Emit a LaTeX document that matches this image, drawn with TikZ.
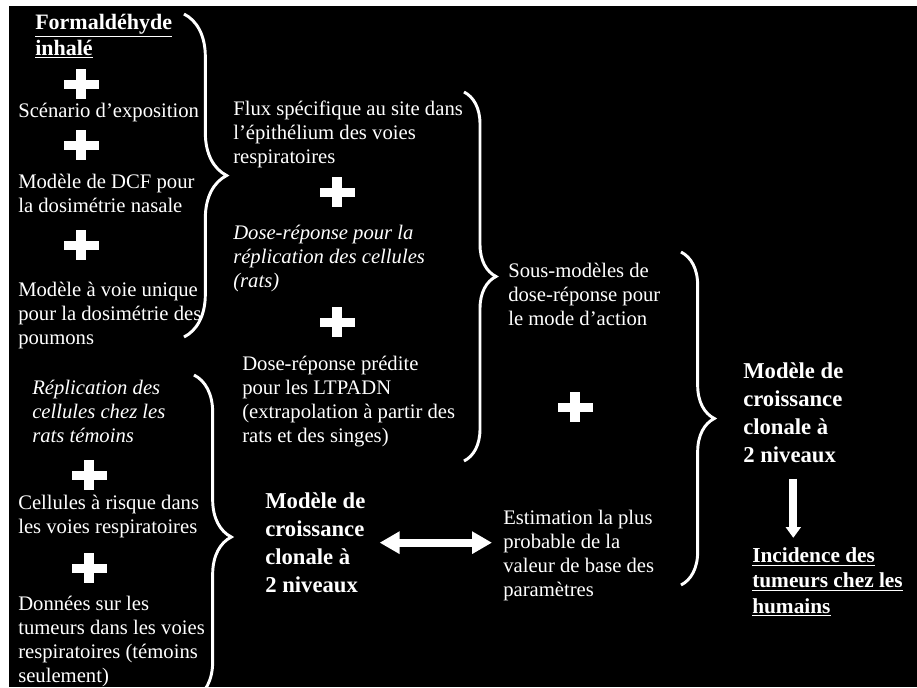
\documentclass[tikz,border=0pt]{standalone}
\usepackage{fontspec}
\setmainfont{Liberation Serif}
\usepackage{tikz}
\usetikzlibrary{arrows.meta,decorations.pathreplacing}

\tikzset{
  txt/.style={anchor=base west,inner sep=0pt,align=left,text=white,
    font=\fontsize{15.5}{18}\selectfont},
  txtit/.style={txt,font=\fontsize{15.5}{18}\selectfont\itshape},
  txtbf/.style={txt,font=\fontsize{17}{20.8}\selectfont\bfseries},
  curly/.style={draw=white,line width=2.2pt,decorate},
  plussign/.pic={
    \fill[white] (-17.5,-4.5) rectangle (17.5,4.5);
    \fill[white] (-5,-15) rectangle (5,15);
  },
  bigarrow/.style={draw=white,line width=6pt}
}

\begin{document}
\begin{tikzpicture}[x=0.75pt,y=0.75pt,yscale=-1,xscale=1]
%set diagram size
\useasboundingbox (0,0) rectangle (917,687);
\fill[white] (0,0) rectangle (917,687);
\fill[black] (9,6) rectangle (917,687);

% Text Node (base = last line)
\node (form) at (35,55) [txt,font=\fontsize{16.5}{18.8}\selectfont\bfseries] {\underline{Formaldéhyde}\\\underline{inhalé}};
% Text Node
\node (scen) at (18,117) [txt] {Scénario d’exposition};
% Text Node
\node (dcf) at (18,212) [txt] {Modèle de DCF pour\\la dosimétrie nasale};
% Text Node
\node (voie) at (18,344) [txt] {Modèle à voie unique\\pour la dosimétrie des\\poumons};
% Text Node
\node (repl) at (32,442) [txtit] {Réplication des\\cellules chez les\\rats témoins};
% Text Node
\node (risque) at (18,533) [txt] {Cellules à risque dans\\les voies respiratoires};
% Text Node
\node (donnees) at (18,682) [txt] {Données sur les\\tumeurs dans les voies\\respiratoires (témoins\\seulement)};

% Text Node
\node (flux) at (233,163) [txt] {Flux spécifique au site dans\\l’épithélium des voies\\respiratoires};
% Text Node
\node (doserep) at (233,287) [txtit] {Dose-réponse pour la\\réplication des cellules\\(rats)};
% Text Node
\node (predite) at (242,442) [txt] {Dose-réponse prédite\\pour les LTPADN\\(extrapolation à partir des\\rats et des singes)};
% Text Node
\node (sous) at (508,325) [txt] {Sous-modèles de\\dose-réponse pour\\le mode d’action};

% Text Node
\node (modleft) at (265,592) [txtbf] {Modèle de\\croissance\\clonale à\\2 niveaux};
% Text Node
\node (estim) at (503,596) [txt] {Estimation la plus\\probable de la\\valeur de base des\\paramètres};
% Text Node
\node (modright) at (743,462) [txtbf] {Modèle de\\croissance\\clonale à\\2 niveaux};
% Text Node
\node (incid) at (752,613) [txt,font=\fontsize{16}{18.8}\selectfont\bfseries] {\underline{Incidence des}\\\underline{tumeurs chez les}\\\underline{humains}};

%Plus signs
\pic at (81,84) {plussign};
\pic at (81,145) {plussign};
\pic at (81,245) {plussign};
\pic at (337,192) {plussign};
\pic at (337,322) {plussign};
\pic at (89,475) {plussign};
\pic at (89,568) {plussign};
\pic at (575,407) {plussign};

%Braces
\draw [curly,decoration={brace,amplitude=32pt}] (184,14) -- (184,337);
\draw [curly,decoration={brace,amplitude=24pt}] (464,92) -- (464,461);
\draw [curly,decoration={brace,amplitude=25pt}] (681,252) -- (681,585);
\draw [curly,decoration={brace,amplitude=28pt}] (194,375) -- (194,699);

%Arrows
\path (modleft.east) ++(14,0) coordinate (aL);
\path (modleft.east -| estim.west) ++(-11,0) coordinate (aR);
\draw [bigarrow,{Triangle[length=15pt,width=16pt]}-{Triangle[length=15pt,width=16pt]}] (aL) -- (aR);
\path (modright.south) ++(0,16) coordinate (dT);
\path (modright.south |- incid.north) ++(0,-10) coordinate (dB);
\draw [bigarrow,-{Triangle[length=8pt,width=11pt]}] (dT) -- (dB);

\end{tikzpicture}
\end{document}
